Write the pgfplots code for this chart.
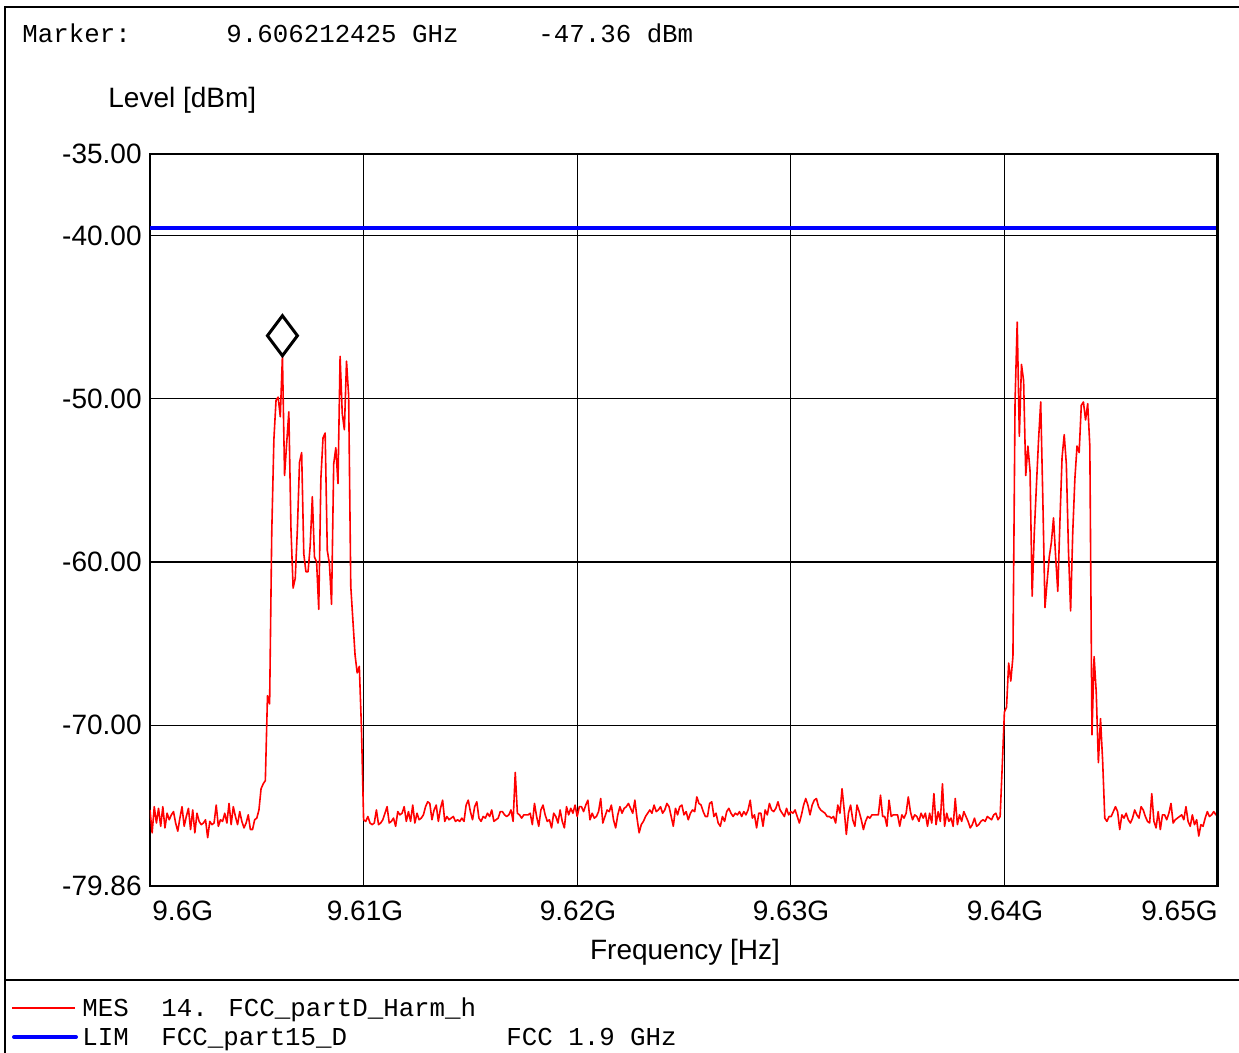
\documentclass[border=0pt]{standalone}
\usepackage{pgfplots}
\pgfplotsset{compat=1.18}
\usepackage{pgfplotstable}
\usepackage{fontspec}
\setmainfont{Liberation Sans}
\newfontfamily\mono{Liberation Mono}

% MES trace, 501 points, 0.1 MHz step from 9.600 GHz
\pgfplotstableread[row sep=\\]{
y\\
-75.2\\ -76.6\\ -75.0\\ -76.0\\ -75.1\\ -76.2\\ -75.0\\ -76.3\\ -75.4\\ -75.8\\
-75.5\\ -75.3\\ -76.0\\ -76.5\\ -75.7\\ -75.0\\ -76.2\\ -75.6\\ -75.1\\ -76.4\\
-75.2\\ -76.6\\ -75.4\\ -75.9\\ -76.1\\ -76.0\\ -75.8\\ -76.9\\ -75.9\\ -76.1\\
-76.0\\ -74.9\\ -76.2\\ -75.8\\ -75.9\\ -75.4\\ -76.0\\ -74.8\\ -76.1\\ -75.0\\
-75.6\\ -76.1\\ -75.3\\ -75.9\\ -76.3\\ -76.0\\ -75.5\\ -76.4\\ -76.4\\ -75.8\\
-75.7\\ -75.2\\ -73.9\\ -73.6\\ -73.4\\ -68.2\\ -68.7\\ -58.2\\ -52.5\\ -50.1\\
-49.9\\ -51.1\\ -47.36\\ -54.7\\ -52.7\\ -50.8\\ -58.0\\ -61.6\\ -61.0\\ -58.0\\
-53.9\\ -53.3\\ -59.5\\ -60.6\\ -60.6\\ -59.0\\ -56.0\\ -59.7\\ -60.0\\ -62.9\\
-54.9\\ -52.4\\ -52.1\\ -59.3\\ -60.1\\ -62.6\\ -54.0\\ -53.0\\ -55.2\\ -47.4\\
-50.9\\ -51.9\\ -47.7\\ -49.8\\ -61.5\\ -63.6\\ -65.7\\ -66.8\\ -66.4\\ -70.2\\
-75.8\\
-75.9\\ -75.6\\ -76.0\\ -76.1\\ -76.0\\ -75.2\\ -76.1\\ -76.0\\ -75.8\\ -75.4\\
-75.0\\ -76.0\\ -75.9\\ -75.7\\ -76.2\\ -75.3\\ -75.5\\ -75.4\\ -75.0\\ -75.9\\
-75.3\\ -75.9\\ -74.9\\ -76.0\\ -75.4\\ -75.8\\ -75.7\\ -75.5\\ -75.0\\ -74.7\\
-74.8\\ -75.8\\ -75.2\\ -74.9\\ -75.9\\ -75.1\\ -74.6\\ -75.9\\ -75.6\\ -75.8\\
-75.7\\ -75.6\\ -75.9\\ -75.8\\ -75.9\\ -75.7\\ -75.9\\ -74.9\\ -74.6\\ -75.3\\
-75.8\\ -75.0\\ -74.7\\ -75.7\\ -75.9\\ -75.6\\ -75.7\\ -75.4\\ -75.6\\ -75.2\\
-75.9\\ -75.8\\ -75.7\\ -75.3\\ -75.3\\ -75.5\\ -75.6\\ -75.5\\ -75.2\\ -75.9\\
-72.9\\ -75.4\\ -75.5\\ -75.7\\ -75.5\\ -75.5\\ -75.5\\ -75.4\\ -76.1\\ -74.8\\
-75.6\\ -76.2\\ -75.2\\ -74.9\\ -75.5\\ -75.9\\ -75.8\\ -76.3\\ -75.4\\ -75.6\\
-76.0\\ -75.2\\ -75.9\\ -76.3\\ -75.0\\ -75.5\\ -75.1\\ -75.4\\ -74.9\\ -75.6\\
-75.0\\ -75.0\\ -75.3\\ -74.9\\ -74.6\\ -75.8\\ -75.4\\ -75.7\\ -75.6\\ -75.3\\
-74.5\\ -76.0\\ -75.6\\ -75.2\\ -75.3\\ -74.9\\ -75.8\\ -76.3\\ -75.5\\ -75.0\\
-75.4\\ -75.1\\ -75.0\\ -74.8\\ -75.1\\ -75.4\\ -74.6\\ -75.7\\ -76.6\\ -76.1\\
-75.9\\ -75.6\\ -75.4\\ -75.2\\ -75.4\\ -74.9\\ -75.3\\ -75.2\\ -75.0\\ -75.4\\
-75.2\\ -74.8\\ -75.0\\ -75.6\\ -76.2\\ -75.1\\ -75.5\\ -75.0\\ -74.9\\ -75.5\\
-75.3\\ -75.8\\ -75.4\\ -75.2\\ -75.3\\ -74.4\\ -74.8\\ -74.9\\ -75.3\\ -75.6\\
-75.6\\ -74.8\\ -74.7\\ -75.6\\ -75.4\\ -76.0\\ -76.2\\ -75.6\\ -75.9\\ -75.3\\
-75.1\\ -75.4\\ -75.6\\ -75.4\\ -75.5\\ -75.3\\ -75.6\\ -75.3\\ -75.5\\ -75.2\\
-74.6\\ -75.7\\ -75.5\\ -76.3\\ -75.4\\ -75.4\\ -76.2\\ -75.2\\ -75.5\\ -74.8\\
-75.2\\ -75.3\\ -75.1\\ -74.7\\ -75.2\\ -75.4\\ -75.6\\ -75.1\\ -75.5\\ -75.3\\
-75.4\\ -75.2\\ -75.6\\ -76.0\\ -75.5\\ -74.9\\ -74.5\\ -74.9\\ -75.5\\ -74.9\\
-74.6\\ -74.5\\ -75.0\\ -75.2\\ -75.3\\ -75.4\\ -75.6\\ -75.6\\ -75.7\\ -75.6\\
-76.0\\ -74.9\\ -75.4\\ -73.9\\ -75.2\\ -76.7\\ -75.4\\ -74.9\\ -75.8\\ -76.2\\
-74.9\\ -75.3\\ -75.8\\ -76.4\\ -75.9\\ -75.6\\ -75.7\\ -75.5\\ -75.5\\ -75.5\\
-75.5\\ -74.3\\ -75.6\\ -75.6\\ -76.2\\ -74.6\\ -75.6\\ -75.5\\ -75.5\\ -75.5\\
-76.2\\ -75.5\\ -75.7\\ -75.4\\ -74.4\\ -75.3\\ -75.8\\ -75.5\\ -75.6\\ -75.9\\
-75.4\\ -75.7\\ -75.4\\ -76.2\\ -75.4\\ -76.0\\ -74.2\\ -76.1\\ -75.3\\ -75.9\\
-73.6\\ -76.2\\ -75.4\\ -75.9\\ -75.7\\ -76.2\\ -74.5\\ -76.1\\ -75.5\\ -75.9\\
-75.3\\ -75.6\\ -75.9\\ -76.3\\ -76.1\\ -75.7\\ -76.2\\ -76.1\\ -75.9\\ -75.8\\
-75.9\\ -75.6\\ -75.7\\ -75.8\\ -75.5\\ -75.4\\
-75.8\\ -75.6\\ -72.5\\ -69.2\\ -68.9\\ -66.2\\ -67.3\\ -65.8\\ -50.1\\ -45.3\\
-52.3\\ -47.9\\ -48.9\\ -54.7\\ -52.9\\ -54.4\\ -62.1\\ -58.2\\ -55.3\\ -52.5\\
-50.2\\ -56.2\\ -62.8\\ -61.2\\ -59.7\\ -58.8\\ -57.3\\ -59.7\\ -61.8\\ -57.5\\
-53.6\\ -52.2\\ -54.0\\ -59.3\\ -63.0\\ -58.2\\ -54.9\\ -52.9\\ -53.3\\ -50.4\\
-50.2\\ -51.3\\ -50.3\\ -52.9\\ -70.6\\ -65.8\\ -68.0\\ -72.3\\ -69.6\\ -72.2\\
-75.7\\
-75.9\\ -75.6\\ -75.6\\ -75.3\\ -75.0\\ -75.3\\ -76.4\\ -75.5\\ -75.7\\ -75.4\\
-75.8\\ -76.0\\ -75.7\\ -75.2\\ -75.5\\ -75.7\\ -75.0\\ -75.2\\ -75.6\\ -75.9\\
-76.0\\ -74.2\\ -75.9\\ -76.3\\ -75.3\\ -76.4\\ -75.5\\ -75.5\\ -75.8\\ -75.4\\
-74.8\\ -76.0\\ -75.8\\ -75.7\\ -75.6\\ -75.5\\ -75.8\\ -75.0\\ -75.9\\ -76.2\\
-75.5\\ -76.1\\ -75.8\\ -76.8\\ -76.1\\ -76.2\\ -75.7\\ -75.3\\ -75.6\\ -75.5\\
-75.3\\ -75.5\\ -75.2\\
}\trace

\begin{document}
\begin{tikzpicture}
\useasboundingbox (0,0) rectangle (619.5pt,-526.5pt);
\begin{axis}[
  at={(75pt,-443pt)}, anchor=south west,
  width=534pt, height=366pt, scale only axis,
  xmin=0, xmax=50, ymin=-79.86, ymax=-35,
  xtick={10,20,30,40}, ytick={-70,-60,-50,-40},
  xticklabels={}, yticklabels={},
  major tick length=0pt,
  grid=major,
  major grid style={black, line width=0.6pt},
  axis line style={black, line width=0.9pt},
  clip mode=individual,
]
\addplot[red, line width=0.8pt, line join=round] table[x expr=\coordindex*0.1, y=y] {\trace};
\addplot[blue, line width=2pt] coordinates {(0,-39.53) (50,-39.53)};
\addplot[only marks, mark=diamond, mark size=10pt,
  mark options={fill=white, draw=black, line width=1.5pt, yshift=10pt}]
  coordinates {(6.2,-47.36)};
\draw[line width=1.5pt] (axis cs:50,-35) -- (axis cs:50,-79.86);
\end{axis}
\begin{scope}[x=0.5pt,y=-0.5pt]
\draw[line width=0.7pt] (5,1053) -- (5,7) -- (1239,7);
\draw[line width=0.7pt] (5,980) -- (1239,980);
% header
\begin{scope}[every node/.style={inner sep=0pt, font=\mono\fontsize{12.9}{14}\selectfont}]
\node[anchor=base west] at (22,43) {Marker:};
\node[anchor=base west] at (226,43) {9.606212425 GHz};
\node[anchor=base west] at (538,43) {-47.36 dBm};
\node[anchor=base west] at (82,1016) {MES};
\node[anchor=base west] at (161,1016) {14. FCC\_partD\_Harm\_h};
\node[anchor=base west] at (82,1045) {LIM};
\node[anchor=base west] at (161,1045) {FCC\_part15\_D};
\node[anchor=base west] at (506,1045) {FCC 1.9 GHz};
\end{scope}
\draw[red, line width=0.6pt] (12,1008) -- (75,1008);
\draw[blue, line width=2pt, line cap=round] (14,1037) -- (76,1037);
% axis labels
\begin{scope}[every node/.style={inner sep=0pt, font=\fontsize{14}{16}\selectfont}]
\node[anchor=base west] at (108,108) {Level [dBm]};
\node[anchor=base] at (685,960) {Frequency [Hz]};
\node[anchor=east] at (142,154) {-35.00};
\node[anchor=east] at (142,235.6) {-40.00};
\node[anchor=east] at (142,398.8) {-50.00};
\node[anchor=east] at (142,562) {-60.00};
\node[anchor=east] at (142,725.2) {-70.00};
\node[anchor=east] at (142,886) {-79.86};
\node[anchor=base west] at (152,921) {9.6G};
\node[anchor=base] at (365,921) {9.61G};
\node[anchor=base] at (578,921) {9.62G};
\node[anchor=base] at (791,921) {9.63G};
\node[anchor=base] at (1005,921) {9.64G};
\node[anchor=base east] at (1218,921) {9.65G};
\end{scope}
\end{scope}
\end{tikzpicture}
\end{document}
